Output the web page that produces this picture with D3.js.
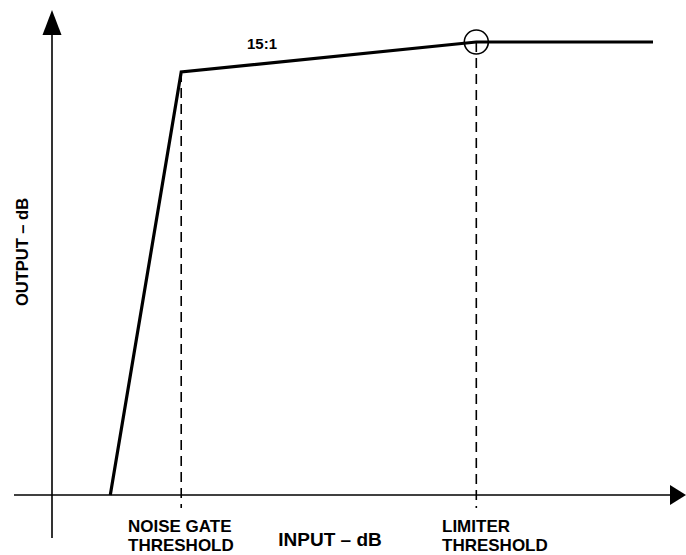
<!DOCTYPE html>
<html>
<head>
<meta charset="utf-8">
<script src="https://cdn.jsdelivr.net/npm/d3@7"></script>
<style>
  body { margin: 0; background: #fff; }
  text { font-family: "Liberation Sans", Arial, sans-serif; font-weight: bold; fill: #000; }
</style>
</head>
<body>
<div id="chart"></div>
<script>
// transfer curve, arbitrary dB units
const inputLevels = [9.7, 21.5, 70.6, 100];
const outputLevels = [0, 93.4, 100, 100];
const thresholds = [
  { name: "NOISE GATE", at: 21.5, level: 93.4 },
  { name: "LIMITER", at: 70.6, level: 100 }
];
const ratioLabel = "15:1";

const width = 686, height = 555;

const x = d3.scaleLinear().domain([0, 100]).range([52, 653]);
const y = d3.scaleLinear().domain([0, 100]).range([495, 42]);

const svg = d3.select("#chart").append("svg")
  .attr("width", width)
  .attr("height", height)
  .attr("viewBox", [0, 0, width, height]);

// axes with arrowheads
svg.append("line")
  .attr("x1", x(0)).attr("x2", x(0))
  .attr("y1", 538).attr("y2", 30)
  .attr("stroke", "#000").attr("stroke-width", 1.6);
svg.append("path")
  .attr("d", `M${x(0)},10 L${x(0) - 9.5},35 L${x(0) + 9.5},35 Z`)
  .attr("fill", "#000");

svg.append("line")
  .attr("x1", 14).attr("x2", 672)
  .attr("y1", y(0)).attr("y2", y(0))
  .attr("stroke", "#000").attr("stroke-width", 1.6);
svg.append("path")
  .attr("d", `M686,${y(0)} L670,${y(0) - 10} L670,${y(0) + 10} Z`)
  .attr("fill", "#000");

// threshold markers
svg.append("g")
  .selectAll("line")
  .data(thresholds)
  .join("line")
  .attr("x1", d => x(d.at)).attr("x2", d => x(d.at))
  .attr("y1", d => y(d.level)).attr("y2", y(0) + 13)
  .attr("stroke", "#000")
  .attr("stroke-width", 1.6)
  .attr("stroke-dasharray", "10,6");

// transfer curve
const line = d3.line()
  .x((d, i) => x(inputLevels[i]))
  .y(d => y(d));

svg.append("path")
  .datum(outputLevels)
  .attr("d", line)
  .attr("fill", "none")
  .attr("stroke", "#000")
  .attr("stroke-width", 3.2)
  .attr("stroke-linejoin", "miter");

// limiter knee circle
svg.append("circle")
  .attr("cx", x(thresholds[1].at))
  .attr("cy", y(thresholds[1].level))
  .attr("r", 12)
  .attr("fill", "none")
  .attr("stroke", "#000")
  .attr("stroke-width", 1.6);

// labels
svg.append("text")
  .attr("x", 262).attr("y", 49)
  .attr("text-anchor", "middle")
  .attr("font-size", 15)
  .text(ratioLabel);

const lab = svg.append("g").attr("font-size", 17);
lab.append("text").attr("x", 128).attr("y", 532).text("NOISE GATE");
lab.append("text").attr("x", 128).attr("y", 551).text("THRESHOLD");
lab.append("text").attr("x", 442).attr("y", 532).text("LIMITER");
lab.append("text").attr("x", 442).attr("y", 551).text("THRESHOLD");
lab.append("text").attr("x", 330).attr("y", 546).attr("text-anchor", "middle")
  .attr("font-size", 19).text("INPUT – dB");

svg.append("text")
  .attr("transform", `translate(28,252) rotate(-90)`)
  .attr("text-anchor", "middle")
  .attr("font-size", 16.5)
  .text("OUTPUT – dB");
</script>
</body>
</html>
